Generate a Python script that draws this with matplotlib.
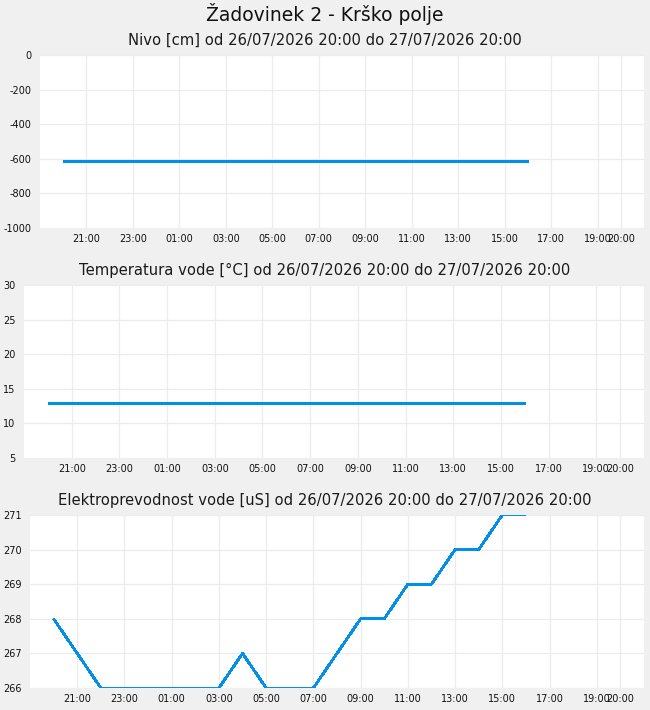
import datetime as dt
import matplotlib
matplotlib.use("Agg")
import matplotlib.pyplot as plt
import matplotlib.dates as mdates

plt.rcParams["axes.unicode_minus"] = False

# hourly readings 26/07/2026 20:00 .. 27/07/2026 16:00
start = dt.datetime(2026, 7, 26, 20)
hours = [start + dt.timedelta(hours=i) for i in range(21)]

nivo = [-610] * 21
temperatura = [12.9] * 21
prevodnost = [268, 267, 266, 266, 266, 266, 266, 266, 267, 266, 266, 266,
              267, 268, 268, 269, 269, 270, 270, 271, 271]

titles = ["Nivo [cm] od 26/07/2026 20:00 do 27/07/2026 20:00",
          "Temperatura vode [°C] od 26/07/2026 20:00 do 27/07/2026 20:00",
          "Elektroprevodnost vode [uS] od 26/07/2026 20:00 do 27/07/2026 20:00"]
ylims = [(-1000, 0), (5, 30), (266, 271)]
yticks = [[-1000, -800, -600, -400, -200, 0],
          [5, 10, 15, 20, 25, 30],
          [266, 267, 268, 269, 270, 271]]
series = [nivo, temperatura, prevodnost]

W, H = 650, 710
fig = plt.figure(figsize=(6.5, 7.1), dpi=100, facecolor="#f0f0f0")
fig.text(0.5, 1 - 14 / H, "Žadovinek 2 - Krško polje", ha="center", va="center",
         fontsize=13.5, color="#111111")

lefts = [40, 24, 30]
tops = [55, 285, 515]
right = 644
ph = 173

xmin = dt.datetime(2026, 7, 26, 19)
xmax = dt.datetime(2026, 7, 27, 21)
xt = [dt.datetime(2026, 7, 26, 21) + dt.timedelta(hours=2 * i) for i in range(12)]
xt.append(dt.datetime(2026, 7, 27, 20))

for i in range(3):
    l, t = lefts[i], tops[i]
    ax = fig.add_axes([l / W, 1 - (t + ph) / H, (right - l) / W, ph / H])
    ax.set_facecolor("white")
    for s in ax.spines.values():
        s.set_visible(False)
    lw = 2 if i < 2 else 1.3
    ax.plot(hours, series[i], color="#0090ea", lw=lw, antialiased=False,
            solid_capstyle="butt")
    ax.set_xlim(xmin, xmax)
    ax.set_ylim(*ylims[i])
    ax.set_yticks(yticks[i])
    ax.set_xticks(xt)
    ax.xaxis.set_major_formatter(mdates.DateFormatter("%H:%M"))
    ax.grid(True, color="#ececec", lw=0.9)
    ax.set_axisbelow(True)
    ax.tick_params(axis="y", length=0, labelsize=7, colors="#111111", pad=6)
    ax.tick_params(axis="x", length=0, labelsize=7, colors="#111111", pad=4)
    fig.text(0.5, 1 - (t - 15) / H, titles[i], ha="center", va="center",
             fontsize=10.6, color="#1a1a1a")

fig.savefig("out.png", dpi=100, facecolor=fig.get_facecolor())
